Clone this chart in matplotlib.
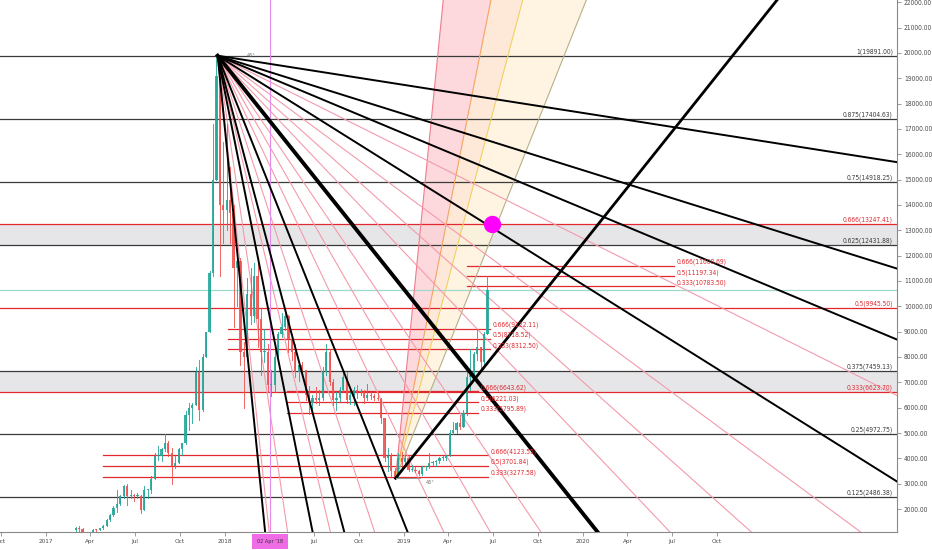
import matplotlib
matplotlib.use("Agg")
import matplotlib.pyplot as plt
import matplotlib.dates as mdates
from matplotlib import font_manager
from matplotlib.font_manager import FontProperties
import pandas as pd

# ---------------- data ----------------
candle_start = "2017-02-27"   # weekly candles
candle_open = [1190, 1250, 1230, 970, 1040, 1090, 1180, 1170, 1240, 1340, 1560, 1760, 2050, 2200, 2500, 2900,
               2500, 2550, 2500, 2500, 1950, 2750, 2750, 3200, 4100, 4100, 4350, 4600, 4200, 3700, 3800, 4350,
               4600, 5700, 6000, 6100, 7400, 5900, 8000, 9000, 11300, 15000, 19100, 14000,
               13800, 14200, 13700, 11500, 11800, 8200, 8000, 10500, 9600, 11200, 9500, 8200, 8200, 6900,
               6900, 8000, 8900, 9200, 9600, 8700, 8200, 7400, 7700, 7500, 6500, 6200, 6400, 6300, 6400,
               7400, 8200, 7000, 6300, 6400, 6700, 7200, 6300, 6500, 6700, 6600, 6600, 6400, 6500, 6450,
               6400, 6350, 5600, 4000, 4100, 3500, 3250, 4000, 3850,
               4000, 3550, 3550, 3500, 3400, 3650, 3650, 3800, 3850, 3900, 4000, 4000, 4150, 5000, 5100,
               5400, 5250, 5800, 7200, 7300, 8100, 8400, 7800, 8900]
candle_high = [1290, 1330, 1260, 1060, 1100, 1210, 1210, 1250, 1350, 1600, 1800, 2100, 2760, 2550, 2950, 2980,
               2770, 2600, 2650, 2550, 2900, 2800, 3300, 4200, 4500, 4400, 4980, 4700, 4400, 4100, 4400, 4600,
               5850, 6200, 6200, 7600, 7900, 8100, 9000, 11400, 17200, 19891, 19200, 16500,
               17200, 15500, 14000, 12000, 11900, 8600, 11100, 11500, 11700, 11700, 9900, 9100, 8500, 7500,
               8400, 9000, 9750, 9950, 9650, 8900, 8500, 7800, 7800, 7500, 6850, 6500, 6800, 6700, 7600,
               8500, 8300, 7150, 6600, 6800, 7400, 7400, 6600, 6800, 6900, 6750, 6700, 6950, 6600, 6550,
               6600, 6400, 5600, 4400, 4200, 3600, 4200, 4250, 4100,
               4100, 3750, 3650, 3550, 3700, 3700, 4200, 3900, 3950, 4050, 4100, 4150, 5100, 5450, 5450,
               5700, 5900, 7500, 8300, 8200, 9100, 8400, 9000, 11200]
candle_low = [1150, 980, 940, 900, 1000, 1070, 1140, 1160, 1230, 1330, 1540, 1740, 1900, 2150, 2450, 2150,
              2450, 2300, 2450, 1850, 1950, 2450, 2650, 3200, 3950, 3900, 4300, 4100, 2980, 3600, 3800, 4150,
              4550, 5100, 5400, 6100, 5500, 5850, 8000, 9000, 11200, 15000, 11200, 12500,
              13000, 12500, 9200, 10000, 7700, 6000, 8000, 9300, 9400, 8400, 7300, 7800, 6600, 6450,
              6600, 7800, 8800, 9050, 8200, 7900, 7200, 7050, 7400, 6300, 5750, 5800, 6200, 6100, 6300,
              7300, 6900, 6100, 5900, 6250, 6650, 6200, 6150, 6100, 6400, 6500, 6200, 6300, 6350, 6300,
              6300, 5400, 3900, 3500, 3300, 3215, 3250, 3600, 3700,
              3500, 3500, 3450, 3350, 3350, 3550, 3600, 3750, 3700, 3800, 3950, 3950, 4100, 4950, 5000,
              5150, 5250, 5700, 6700, 7300, 7900, 7450, 7700, 8900]
candle_close = [1250, 1230, 970, 1040, 1090, 1180, 1170, 1240, 1340, 1560, 1760, 2050, 2200, 2500, 2900, 2500,
                2550, 2500, 2500, 1950, 2750, 2750, 3200, 4100, 4100, 4350, 4600, 4200, 3700, 3800, 4350, 4600,
                5700, 6000, 6100, 7400, 5900, 8000, 9000, 11300, 15000, 19100, 14000, 13800,
                14200, 13700, 11500, 11800, 8200, 8000, 10500, 9600, 11200, 9500, 8200, 8200, 6900, 6900,
                8000, 8900, 9200, 9600, 8700, 8200, 7400, 7700, 7500, 6500, 6200, 6400, 6300, 6400, 7400,
                8200, 7000, 6300, 6400, 6700, 7200, 6300, 6500, 6700, 6600, 6600, 6400, 6500, 6450, 6400,
                6350, 5600, 4000, 4100, 3500, 3250, 4000, 3850, 4000,
                3550, 3550, 3500, 3400, 3650, 3650, 3800, 3850, 3900, 4000, 4000, 4150, 5000, 5100, 5400,
                5250, 5800, 7200, 7300, 8100, 8400, 7800, 8900, 10650]

fib_levels = ["1", "0.875", "0.75", "0.666", "0.625", "0.5", "0.375", "0.333", "0.25", "0.125"]
fib_prices = [19891.00, 17404.63, 14918.25, 13247.41, 12431.88, 9945.50, 7459.13, 6623.70, 4972.75, 2486.38]
fib_red = [False, False, False, True, False, True, False, True, False, False]
grey_zones = [(12431.88, 13247.41), (6623.70, 7459.13)]

sub_levels = ["0.666", "0.5", "0.333"]
subA_prices = [11608.69, 11197.34, 10783.50]
subA_span = ("2019-05-09", "2020-07-05")
subB_prices = [9122.11, 8718.52, 8312.50]
subB_span = ("2018-01-07", "2019-06-26")
subC_prices = [6643.62, 6221.03, 5795.89]
subC_span = ("2018-05-07", "2019-06-01")
subD_prices = [4123.55, 3701.84, 3277.58]
subD_span = ("2017-04-27", "2019-06-22")

last_price = 10650

top_date, top_price = "2017-12-17", 19891
low_date, low_price = "2018-12-15", 3215
gann_unit = 24.25     # price per day of the 1x1 angle
top_black_ratios = [8, 4, 3, 2, 1, 1/2, 1/3, 1/4, 1/8]
top_pink_ratios = [7.37, 5.43, 3.37, 2.42, 1.68, 1.394, 1.175, 0.84, 0.712, 0.591, 0.399]
low_fan_ratios = [8, 4, 3, 2]
low_fan_line_colors = ["#F07C8C", "#F5A35E", "#F2CF62", "#B5B08A"]
low_fan_fill_colors = ["#FDD3D8", "#FEE6D3", "#FEF3DC"]

marker_date, marker_price = "2019-06-29", 13247.41
cursor_date = "2018-04-02"

xticks = ["2016-10-01", "2017-01-01", "2017-04-01", "2017-07-01", "2017-10-01", "2018-01-01",
          "2018-07-01", "2018-10-01", "2019-01-01", "2019-04-01", "2019-07-01", "2019-10-01",
          "2020-01-01", "2020-04-01", "2020-07-01", "2020-10-01"]
xtick_labels = ["Oct", "2017", "Apr", "Jul", "Oct", "2018", "Jul", "Oct", "2019", "Apr", "Jul", "Oct",
                "2020", "Apr", "Jul", "Oct"]

# ---------------- fonts ----------------
def pick_font():
    tl = font_manager.fontManager.ttflist
    for f in tl:
        if f.name == "Liberation Sans Narrow" and f.style == "normal" and f.weight in (400, "normal", "regular"):
            return f.fname
    for f in tl:
        if f.name == "DejaVu Sans" and f.stretch == "condensed" and f.style == "normal" \
                and f.weight in (400, "normal", "regular", "book"):
            return f.fname
    for f in tl:
        if f.name == "Roboto" and f.style == "normal" and f.weight in (400, "normal", "regular"):
            return f.fname
    return None

fpath = pick_font()
base_fp = FontProperties(fname=fpath) if fpath else FontProperties(family="DejaVu Sans")

def dn(s):
    return mdates.date2num(pd.Timestamp(s))

fig = plt.figure(figsize=(9.32, 5.5), dpi=100)
renderer = fig.canvas.get_renderer()

def fit_fp(sample, target_px, lo=3.0, hi=7.0):
    fp = base_fp.copy()
    fp.set_size(10)
    t = fig.text(0, 0, sample, fontproperties=fp)
    w = t.get_window_extent(renderer=renderer).width
    t.remove()
    size = max(lo, min(hi, 10 * target_px / w))
    fp = base_fp.copy()
    fp.set_size(size)
    return fp

fp_lab = fit_fp("0.875(17404.63)", 50)
fp_tick = fit_fp("20000.00", 28.5)
fp_xtick = fit_fp("2017", 14.5)
fp_box = fit_fp("02 Apr '18", 26)

ax = fig.add_axes([0, 18 / 550, 897 / 932, 532 / 550])
ax.set_xlim(dn("2016-09-29"), dn("2021-10-03"))
ax.set_ylim(1093, 22089)

# grey zones
for lo, hi in grey_zones:
    ax.axhspan(lo, hi, color="#E6E6E8", zorder=0, lw=0)

# main fib lines + labels
for lvl, p, red in zip(fib_levels, fib_prices, fib_red):
    col = "#E0282E" if red else "#3A3A3A"
    ax.axhline(p, color=col, lw=0.9, zorder=2)
    ax.annotate(f"{lvl}({p:.2f})", xy=(1, p), xycoords=("axes fraction", "data"),
                xytext=(-3, 0.5), textcoords="offset points", ha="right", va="bottom",
                fontproperties=fp_lab, color=col, zorder=6)

# last price line
ax.axhline(last_price, color="#9ED9CF", lw=0.9, zorder=2)

# sub fib sets
for prices, span in [(subA_prices, subA_span), (subB_prices, subB_span),
                     (subC_prices, subC_span), (subD_prices, subD_span)]:
    for lvl, p in zip(sub_levels, prices):
        ax.plot([dn(span[0]), dn(span[1])], [p, p], color="#E0282E", lw=0.9, zorder=2)
        ax.annotate(f"{lvl}({p:.2f})", xy=(dn(span[1]), p), xytext=(2, 0.3),
                    textcoords="offset points", ha="left", va="bottom",
                    fontproperties=fp_lab, color="#E0282E", zorder=6)

# gann fan from the low (filled wedges)
ld, lp = dn(low_date), low_price
N = 1000
ends = [(ld + N, lp + r * gann_unit * N) for r in low_fan_ratios]
for i, fc in enumerate(low_fan_fill_colors):
    ax.fill([ld, ends[i][0], ends[i + 1][0]], [lp, ends[i][1], ends[i + 1][1]],
            color=fc, alpha=0.85, lw=0, zorder=1)
for (ex, ey), lc in zip(ends, low_fan_line_colors):
    ax.plot([ld, ex], [lp, ey], color=lc, lw=0.8, zorder=2)
# 1x1 up from the low
ax.plot([ld, ld + N], [lp, lp + gann_unit * N], color="black", lw=2.0, zorder=5)
ax.plot([ld, ld + 50], [lp, lp], color="#9A9A9A", lw=0.7, zorder=5)
ax.text(ld + 62, lp - 60, "45°", fontsize=3.6, color="#666666", ha="left", va="top", zorder=6)

# gann fan from the top
td, tp = dn(top_date), top_price
M = 3000
for r in top_pink_ratios:
    ax.plot([td, td + M], [tp, tp - r * gann_unit * M], color="#F49AAA", lw=0.8, zorder=2)
for r in top_black_ratios:
    ax.plot([td, td + M], [tp, tp - r * gann_unit * M], color="black",
            lw=2.8 if r == 1 else 1.4, zorder=5)
ax.text(td + 60, tp, "45°", fontsize=3.6, color="#666666", ha="left", va="center", zorder=6)

# candles
cdates = mdates.date2num(pd.date_range(candle_start, periods=len(candle_open), freq="7D")) + 3.5
for xc, o, h, l, c in zip(cdates, candle_open, candle_high, candle_low, candle_close):
    col = "#26A69A" if c >= o else "#EF5350"
    ax.plot([xc, xc], [l, h], color=col, lw=0.7, zorder=3, alpha=0.9)
    ax.bar(xc, max(abs(c - o), 40), bottom=min(o, c), width=4.5, color=col, lw=0, zorder=3, alpha=0.9)

# cursor vertical line and marker
ax.axvline(dn(cursor_date), color="#E58CEB", lw=0.8, zorder=2)
ax.plot([dn(marker_date)], [marker_price], "o", ms=12.5, color="#FF00FF", mec="none", zorder=7)

# axes styling
for s in ["top", "left"]:
    ax.spines[s].set_visible(False)
for s in ["right", "bottom"]:
    ax.spines[s].set_color("#8A8A8A")
    ax.spines[s].set_linewidth(0.8)
ax.yaxis.tick_right()
ax.set_yticks(range(2000, 22001, 1000))
ax.set_yticklabels([f"{v:.2f}" for v in range(2000, 22001, 1000)])
ax.set_xticks([dn(t) for t in xticks])
ax.set_xticklabels(xtick_labels)
ax.tick_params(axis="both", colors="#8A8A8A", labelcolor="#4A4A4A", length=3, width=0.6, pad=2)
for lab in ax.get_yticklabels():
    lab.set_fontproperties(fp_tick)
for lab in ax.get_xticklabels():
    lab.set_fontproperties(fp_xtick)
ax.annotate("02 Apr '18", xy=(dn(cursor_date), 0), xycoords=("data", "axes fraction"),
            xytext=(0, -6.5), textcoords="offset points", ha="center", va="center",
            fontproperties=fp_box, color="#333333",
            bbox=dict(boxstyle="square,pad=0.9", fc="#F06CE6", ec="none"), annotation_clip=False)

fig.savefig("out.png", dpi=100, facecolor="white")
